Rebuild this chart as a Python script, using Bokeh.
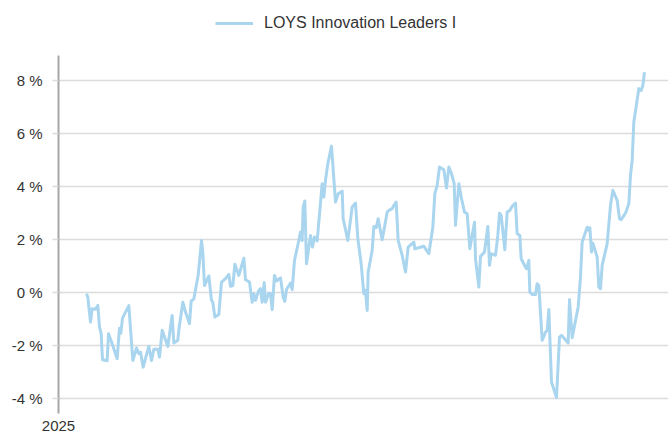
from bokeh.plotting import figure
from bokeh.layouts import column
from bokeh.models import Range1d, FixedTicker, Legend, LegendItem
from bokeh.embed import file_html
from bokeh.resources import INLINE

# Days since 2025-01-01
days = [16.8, 17.6, 19.2, 20.2, 22.2, 23.6, 24.6, 25.6, 26.4, 29.2,
        30.0, 32.2, 35.2, 36.6, 37.4, 38.4, 42.2, 44.6, 46.8, 48.2,
        49.2, 50.8, 54.2, 55.8, 57.2, 59.6, 60.6, 62.2, 65.6, 68.2,
        69.2, 71.6, 72.2, 74.6, 76.2, 78.6, 79.6, 81.2, 83.8, 85.8,
        86.6, 87.6, 90.2, 91.8, 92.6, 93.8, 96.2, 97.8, 100.2, 102.2,
        103.2, 104.6, 105.8, 108.2, 111.2, 112.2, 114.6, 116.2, 117.2, 118.2,
        120.2, 121.2, 122.2, 123.4, 124.2, 126.2, 127.2, 128.2, 129.6, 130.8,
        133.2, 134.8, 135.8, 136.8, 139.2, 140.2, 141.6, 144.2, 145.2, 146.2,
        146.8, 147.8, 148.8, 151.2, 152.4, 153.6, 155.2, 158.2, 159.2, 160.2,
        161.6, 163.8, 166.2, 167.8, 170.2, 170.8, 173.6, 176.2, 178.2, 179.6,
        181.6, 183.2, 184.2, 185.2, 185.8, 188.2, 189.2, 190.6, 191.8, 194.2,
        195.6, 197.2, 198.2, 200.2, 201.2, 202.6, 203.8, 206.2, 208.2, 209.8,
        213.2, 213.8, 219.2, 222.2, 224.6, 225.8, 227.2, 228.6, 231.2, 232.8,
        234.2, 235.8, 237.4, 238.2, 240.2, 241.8, 243.6, 245.2, 246.8, 249.6,
        250.2, 252.2, 253.2, 255.6, 257.6, 258.6, 259.6, 262.2, 263.6, 264.6,
        265.6, 267.8, 269.2, 270.8, 272.2, 274.2, 275.2, 276.8, 277.6, 280.2,
        280.8, 282.2, 282.8, 284.2, 286.2, 287.2, 288.2, 290.2, 292.2, 293.2,
        294.2, 295.8, 298.8, 300.6, 301.8, 305.8, 306.6, 308.2, 311.8, 313.2,
        314.2, 317.2, 318.2, 318.8, 319.8, 320.6, 323.2, 324.2, 325.2, 326.2,
        329.2, 331.2, 332.6, 335.2, 336.6, 337.6, 340.2, 342.2, 343.2, 344.2,
        345.2, 348.2, 349.6, 350.6, 351.6]

# Performance in %
perf = [-0.05, -0.18, -1.12, -0.62, -0.64, -0.49, -1.31, -1.56, -2.54, -2.58,
        -1.56, -1.94, -2.50, -1.35, -1.54, -0.97, -0.50, -2.57, -2.10, -2.31,
        -2.25, -2.82, -2.03, -2.57, -2.15, -2.15, -2.44, -1.43, -2.04, -0.87,
        -1.91, -1.81, -1.41, -0.37, -0.74, -1.18, -0.33, -0.24, 0.64, 1.96,
        1.52, 0.26, 0.62, -0.30, -0.37, -0.93, -0.83, 0.39, 0.52, 0.68,
        0.23, 0.26, 1.06, 0.64, 1.29, 0.48, 0.39, -0.37, -0.05, -0.30,
        0.08, 0.14, -0.37, 0.37, -0.37, -0.03, -0.05, -0.65, 0.64, 0.43,
        0.55, -0.18, -0.34, 0.11, 0.35, 0.10, 1.21, 1.96, 2.28, 1.96,
        3.22, 3.45, 1.08, 2.15, 1.71, 2.09, 1.94, 4.10, 3.60, 4.23,
        4.86, 5.52, 3.41, 3.72, 3.82, 2.78, 1.96, 3.22, 3.37, 2.03,
        1.08, -0.05, 0.08, -0.68, 0.77, 1.58, 2.49, 2.44, 2.78, 1.99,
        2.46, 3.03, 3.09, 3.16, 3.28, 3.41, 1.96, 1.40, 0.77, 1.71,
        1.90, 1.65, 1.74, 1.46, 2.46, 3.72, 4.04, 4.73, 4.63, 3.94,
        4.73, 4.48, 4.10, 2.53, 4.10, 3.54, 3.03, 2.97, 1.65, 2.65,
        1.27, 0.20, 1.36, 1.52, 2.49, 1.02, 1.46, 1.40, 2.15, 2.99,
        2.91, 1.61, 3.03, 3.09, 3.25, 3.37, 2.22, 2.15, 1.27, 0.95,
        0.89, 1.21, 0.01, -0.08, -0.08, 0.33, 0.26, -1.81, -1.50, -1.43,
        -0.65, -3.38, -3.97, -1.69, -1.62, -1.91, -0.28, -1.71, -0.55, 0.58,
        1.90, 2.46, 2.34, 2.44, 1.52, 1.86, 1.33, 0.20, 0.14, 1.02,
        1.84, 3.28, 3.85, 3.47, 2.78, 2.74, 2.99, 3.35, 4.42, 4.98,
        6.43, 7.69, 7.62, 7.81, 8.31]

y_ticks = [-4, -2, 0, 2, 4, 6, 8]
y_labels = {t: f"{t} %" for t in y_ticks}
x_ticks = [0]
x_labels = {0: "2025"}
series_name = "LOYS Innovation Leaders I"

LINE = "#a9d5ef"
GRID = "#dcdcdc"
TEXT = "#333333"
FONT = "Liberation Sans"

# ---- legend strip on top (series drawn outside its view; only the legend shows) ----
top = figure(width=668, height=55, output_backend="svg", toolbar_location=None,
             x_range=Range1d(-2, -1), y_range=Range1d(-20, -19),
             x_axis_location=None, y_axis_location=None,
             min_border_left=0, min_border_right=0, min_border_top=0,
             min_border_bottom=0)
top.outline_line_color = None
top.grid.visible = False
lr = top.line(days, perf, line_color=LINE, line_width=3)
legend = Legend(items=[LegendItem(label=series_name, renderers=[lr])],
                location=(157, 23), orientation="horizontal",
                border_line_color=None, background_fill_alpha=0,
                glyph_width=38, glyph_height=16, label_standoff=11,
                label_text_font=FONT, label_text_font_size="16px",
                label_text_color=TEXT, padding=2, margin=0)
top.add_layout(legend, "center")

# ---- main chart ----
p = figure(width=668, height=381, output_backend="svg", toolbar_location=None,
           x_range=Range1d(0, 366), y_range=Range1d(-4.57, 8.94),
           min_border_left=58, min_border_right=0, min_border_top=0,
           min_border_bottom=23)
p.outline_line_color = None
p.background_fill_color = "white"
p.border_fill_color = "white"

p.line(days, perf, line_color=LINE, line_width=3, line_join="round")

p.xgrid.visible = False
p.ygrid.grid_line_color = GRID
p.ygrid.grid_line_width = 1.5
p.yaxis.ticker = FixedTicker(ticks=y_ticks)
p.yaxis.major_label_overrides = y_labels
p.yaxis.axis_line_color = "#a6a6a6"
p.yaxis.axis_line_width = 2
p.yaxis.major_tick_out = 6
p.yaxis.major_tick_in = 0
p.yaxis.major_tick_line_color = GRID
p.yaxis.major_tick_line_width = 1.5
p.yaxis.minor_tick_line_color = None
p.yaxis.major_label_text_font = FONT
p.yaxis.major_label_text_font_size = "15px"
p.yaxis.major_label_text_color = TEXT
p.yaxis.major_label_standoff = 10

p.xaxis.ticker = FixedTicker(ticks=x_ticks)
p.xaxis.major_label_overrides = x_labels
p.xaxis.axis_line_color = None
p.xaxis.major_tick_line_color = None
p.xaxis.minor_tick_line_color = None
p.xaxis.major_tick_out = 0
p.xaxis.major_tick_in = 0
p.xaxis.major_label_standoff = 7
p.xaxis.major_label_text_font = FONT
p.xaxis.major_label_text_font_size = "15px"
p.xaxis.major_label_text_color = TEXT

layout = column(top, p, spacing=0)
open("out.html", "w").write(file_html(layout, INLINE))
